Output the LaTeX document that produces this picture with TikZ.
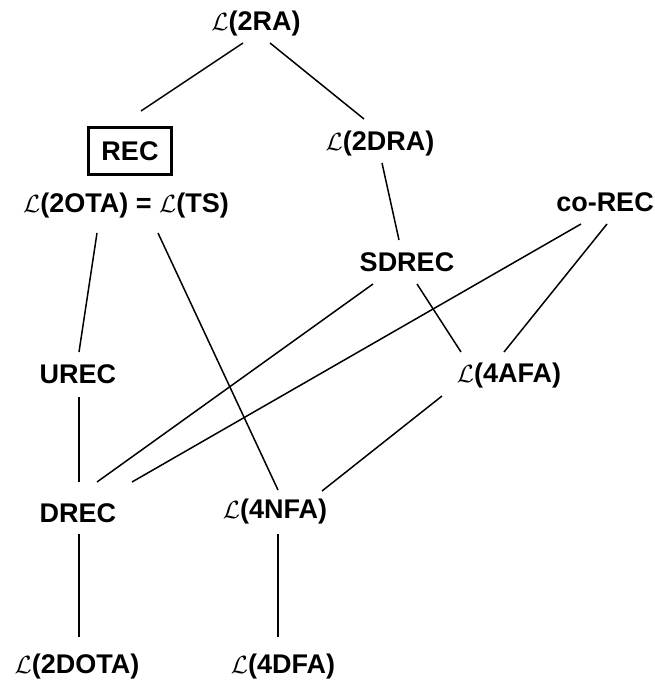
\documentclass[tikz,border=0pt]{standalone}
\usepackage{fontspec}
\setmainfont{Liberation Sans}
\newcommand{\LL}{$\mathcal{L}$}
\begin{document}
\begin{tikzpicture}[x=1pt,y=-1pt,
  lbl/.style={inner sep=0pt,font=\fontsize{27}{32}\selectfont\bfseries},
  boxed/.style={lbl,draw,line width=2.4pt,minimum width=83pt,minimum height=47pt},
  conn/.style={line width=1.5pt}]
\useasboundingbox (0,0) rectangle (655,683);
\node[lbl] (ra)    at (256,24)  {\LL(2RA)};
\node[boxed] (rec) at (130,151) {REC};
\node[lbl] (dra)   at (380,144) {\LL(2DRA)};
\node[lbl] (ota)   at (126,206) {\LL(2OTA) = \LL(TS)};
\node[lbl] (corec) at (605,202) {co-REC};
\node[lbl] (sdrec) at (407,262) {SDREC};
\node[lbl] (urec)  at (78,374)  {UREC};
\node[lbl] (afa)   at (509,376) {\LL(4AFA)};
\node[lbl] (drec)  at (78,513)  {DREC};
\node[lbl] (nfa)   at (275,512) {\LL(4NFA)};
\node[lbl] (dota)  at (77,667)  {\LL(2DOTA)};
\node[lbl] (dfa)   at (283,667) {\LL(4DFA)};

\draw[conn] ([xshift=-13pt,yshift=-19pt]ra.center) -- ([xshift=11pt,yshift=40pt]rec.center);
\draw[conn] ([xshift=14pt,yshift=-19pt]ra.center) -- ([xshift=-16pt,yshift=25pt]dra.center);
\draw[conn] ([xshift=2pt,yshift=-19pt]dra.center) -- ([xshift=-8pt,yshift=22pt]sdrec.center);
\draw[conn] ([xshift=-29pt,yshift=-27pt]ota.center) -- ([xshift=1pt,yshift=22pt]urec.center);
\draw[conn] ([xshift=32pt,yshift=-27pt]ota.center) -- ([xshift=3pt,yshift=22pt]nfa.center);
\draw[conn] ([xshift=-24pt,yshift=-22pt]corec.center) -- ([xshift=54pt,yshift=31pt]drec.center);
\draw[conn] ([xshift=2pt,yshift=-22pt]corec.center) -- ([xshift=-5pt,yshift=24pt]afa.center);
\draw[conn] ([xshift=-34pt,yshift=-22pt]sdrec.center) -- ([xshift=19pt,yshift=31pt]drec.center);
\draw[conn] ([xshift=10pt,yshift=-22pt]sdrec.center) -- ([xshift=-48pt,yshift=24pt]afa.center);
\draw[conn] ([xshift=1pt,yshift=-23pt]urec.center) -- ([xshift=1pt,yshift=31pt]drec.center);
\draw[conn] ([xshift=-67pt,yshift=-20pt]afa.center) -- ([xshift=47pt,yshift=21pt]nfa.center);
\draw[conn] ([xshift=1pt,yshift=-21pt]drec.center) -- ([xshift=2pt,yshift=30pt]dota.center);
\draw[conn] ([xshift=3pt,yshift=-22pt]nfa.center) -- ([xshift=-5pt,yshift=30pt]dfa.center);
\end{tikzpicture}
\end{document}
